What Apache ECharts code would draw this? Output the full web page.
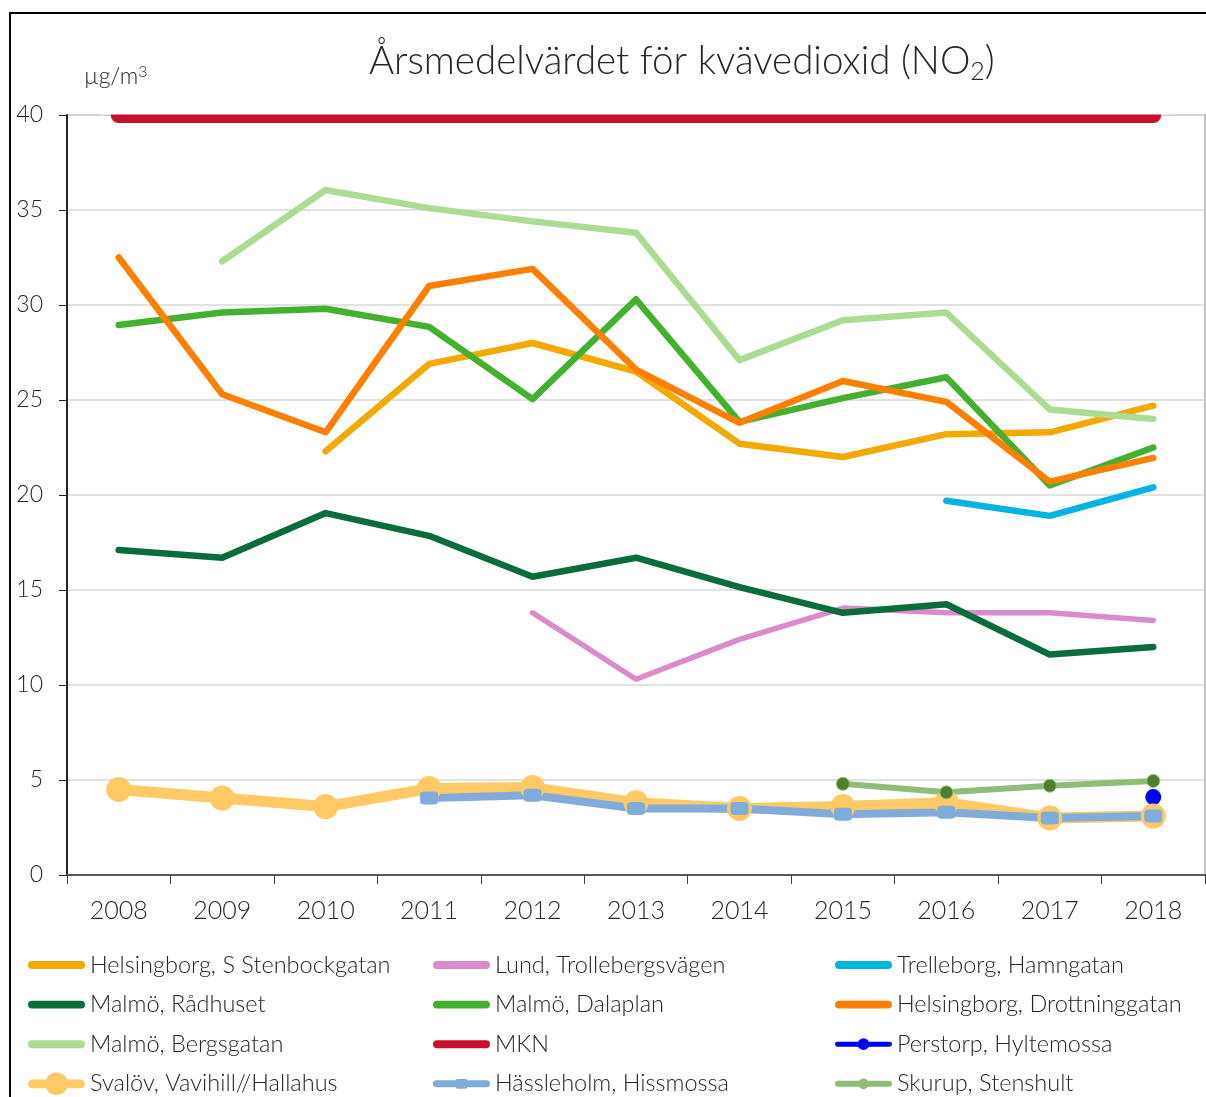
<!DOCTYPE html>
<html>
<head>
<meta charset="utf-8">
<script src="https://cdn.jsdelivr.net/npm/echarts@6/dist/echarts.min.js"></script>
<style>
  html, body { margin: 0; padding: 0; background: #fff; }
  #chart { width: 1206px; height: 1097px; }
</style>
</head>
<body>
<div id="chart"></div>
<script>
const years = ['2008', '2009', '2010', '2011', '2012', '2013', '2014', '2015', '2016', '2017', '2018']

const hbgStenbock = [null, null, 22.3, 26.9, 28.0, 26.5, 22.7, 22.0, 23.2, 23.3, 24.7]
const lundTroll = [null, null, null, null, 13.8, 10.3, 12.4, 14.05, 13.8, 13.8, 13.4]
const trelleborg = [null, null, null, null, null, null, null, null, 19.7, 18.9, 20.4]
const malmoRadhus = [17.1, 16.7, 19.05, 17.85, 15.7, 16.7, 15.15, 13.8, 14.25, 11.6, 12.0]
const malmoDala = [28.95, 29.6, 29.8, 28.85, 25.05, 30.3, 23.85, 25.1, 26.2, 20.5, 22.5]
const hbgDrott = [32.5, 25.3, 23.3, 31.0, 31.9, 26.6, 23.8, 26.0, 24.9, 20.7, 21.95]
const malmoBergs = [null, 32.3, 36.05, 35.1, 34.4, 33.8, 27.1, 29.2, 29.6, 24.5, 24.0]
const mkn = [40, 40, 40, 40, 40, 40, 40, 40, 40, 40, 40]
const perstorp = [null, null, null, null, null, null, null, null, null, null, 4.1]
const svalov = [4.5, 4.05, 3.6, 4.55, 4.6, 3.8, 3.5, 3.6, 3.8, 3.0, 3.1]
const hassleholm = [null, null, null, 4.05, 4.2, 3.5, 3.5, 3.2, 3.3, 3.0, 3.1]
const skurup = [null, null, null, null, null, null, null, 4.8, 4.35, 4.7, 4.95]

const yTicks = [0, 5, 10, 15, 20, 25, 30, 35, 40]

const font = 'Lato'
const txt = '#262626'

// legend icons, all drawn in a 58x24 box (corner anchors keep the box size)
const anchors = 'M0 0 L0.01 0 L0 0.01 Z M58 24 L57.99 24 L58 23.99 Z '
function band(h) {
  const r = h / 2, y0 = 12 - r, y1 = 12 + r
  return `M${r} ${y0} L${58 - r} ${y0} A${r} ${r} 0 0 1 ${58 - r} ${y1} L${r} ${y1} A${r} ${r} 0 0 1 ${r} ${y0} Z`
}
function bandWithDot(h, rad) {
  const r = h / 2, y0 = 12 - r, y1 = 12 + r
  const a = 29 - rad, b = 29 + rad
  return `M${r} ${y0} L${a + 1} ${y0} L${a + 1} ${y1} L${r} ${y1} A${r} ${r} 0 0 1 ${r} ${y0} Z ` +
    `M${b - 1} ${y0} L${58 - r} ${y0} A${r} ${r} 0 0 1 ${58 - r} ${y1} L${b - 1} ${y1} Z ` +
    `M${a} 12 A${rad} ${rad} 0 1 1 ${b} 12 A${rad} ${rad} 0 1 1 ${a} 12 Z`
}
function bandWithBox(h, w, bh) {
  const r = h / 2, y0 = 12 - r, y1 = 12 + r
  const a = 29 - w / 2, b = 29 + w / 2
  const t = 12 - bh / 2, u = 12 + bh / 2
  return `M${r} ${y0} L${a + 1} ${y0} L${a + 1} ${y1} L${r} ${y1} A${r} ${r} 0 0 1 ${r} ${y0} Z ` +
    `M${b - 1} ${y0} L${58 - r} ${y0} A${r} ${r} 0 0 1 ${58 - r} ${y1} L${b - 1} ${y1} Z ` +
    `M${a + 2} ${t} L${b - 2} ${t} Q${b} ${t} ${b} ${t + 2} L${b} ${u - 2} ` +
    `Q${b} ${u} ${b - 2} ${u} L${a + 2} ${u} Q${a} ${u} ${a} ${u - 2} L${a} ${t + 2} Q${a} ${t} ${a + 2} ${t} Z`
}
const iconLine = 'path://' + anchors + band(8)
const iconPerstorp = 'path://' + anchors + bandWithDot(5, 6)
const iconSvalov = 'path://' + anchors + bandWithDot(9, 11.5)
const iconHassle = 'path://' + anchors + bandWithBox(7, 12, 10)
const iconSkurup = 'path://' + anchors + bandWithDot(6, 5.5)

function plain(name, data, color, width) {
  return {
    name, type: 'line', data,
    symbol: 'none',
    lineStyle: { color, width, cap: 'round', join: 'round' },
    itemStyle: { color },
  }
}

const legendBase = {
  orient: 'vertical', top: 953, itemGap: 15.6, padding: 0,
  itemWidth: 57, itemHeight: 24,
  textStyle: { fontSize: 23.5, fontWeight: 300, color: txt, lineHeight: 24 },
}

const chart = echarts.init(document.getElementById('chart'))

chart.setOption({
  animation: false,
  textStyle: { fontFamily: font },
  title: [{
    text: 'Årsmedelvärdet för kvävedioxid (NO{sub|2})',
    left: 364, top: 34,
    textStyle: {
      fontFamily: font, fontSize: 38.5, fontWeight: 300, color: txt,
      rich: { sub: { fontFamily: font, fontSize: 25, fontWeight: 300, color: txt, verticalAlign: 'bottom', padding: [20, 0, 0, 0] } },
    },
  }, {
    text: 'µg/m{sup|3}',
    left: 79, top: 59,
    textStyle: {
      fontFamily: font, fontSize: 23, fontWeight: 300, color: txt,
      rich: { sup: { fontFamily: font, fontSize: 16, fontWeight: 300, color: txt, verticalAlign: 'top', padding: [0, 0, 10, 0] } },
    },
  }],
  graphic: [{
    type: 'rect',
    shape: { x: 10, y: 13, width: 1400, height: 1300 },
    style: { fill: 'none', stroke: '#000', lineWidth: 2 },
  }, {
    // the limit line is clipped at the top of the plot area
    type: 'rect', z: 100,
    shape: { x: 100, y: 96, width: 1075, height: 18.5 },
    style: { fill: '#fff' },
  }],
  grid: {
    left: 67, right: 1, top: 115, bottom: 222,
    show: true, borderColor: '#c0c0c0', borderWidth: 2,
  },
  xAxis: {
    type: 'category',
    data: years,
    boundaryGap: true,
    axisLine: { lineStyle: { color: '#595959', width: 2 } },
    axisTick: { show: true, interval: 0, length: 9, lineStyle: { color: '#404040' } },
    axisLabel: { color: txt, fontSize: 25, fontWeight: 300, margin: 23, interval: 0 },
  },
  yAxis: {
    type: 'value',
    min: yTicks[0], max: yTicks[yTicks.length - 1], interval: 5,
    axisLine: { show: true, lineStyle: { color: '#262626', width: 2 } },
    axisTick: { show: true, length: 8, lineStyle: { color: '#262626' } },
    axisLabel: { color: txt, fontSize: 23, fontWeight: 300, margin: 24 },
    splitLine: { lineStyle: { color: '#d9d9d9', width: 1.5 } },
  },
  legend: [
    Object.assign({}, legendBase, {
      left: 28,
      data: [
        { name: 'Helsingborg, S Stenbockgatan', icon: iconLine },
        { name: 'Malmö, Rådhuset', icon: iconLine },
        { name: 'Malmö, Bergsgatan', icon: iconLine },
        { name: 'Svalöv, Vavihill//Hallahus', icon: iconSvalov },
      ],
    }),
    Object.assign({}, legendBase, {
      left: 433,
      data: [
        { name: 'Lund, Trollebergsvägen', icon: iconLine },
        { name: 'Malmö, Dalaplan', icon: iconLine },
        { name: 'MKN', icon: iconLine },
        { name: 'Hässleholm, Hissmossa', icon: iconHassle },
      ],
    }),
    Object.assign({}, legendBase, {
      left: 835,
      data: [
        { name: 'Trelleborg, Hamngatan', icon: iconLine },
        { name: 'Helsingborg, Drottninggatan', icon: iconLine },
        { name: 'Perstorp, Hyltemossa', icon: iconPerstorp },
        { name: 'Skurup, Stenshult', icon: iconSkurup, itemStyle: { color: '#8fbc78', borderWidth: 0 } },
      ],
    }),
  ],
  series: [
    plain('Helsingborg, S Stenbockgatan', hbgStenbock, '#f2a900', 6.5),
    plain('Lund, Trollebergsvägen', lundTroll, '#d98cc9', 5.5),
    plain('Trelleborg, Hamngatan', trelleborg, '#00b4e2', 6.5),
    plain('Malmö, Rådhuset', malmoRadhus, '#0a6b3b', 6.5),
    plain('Malmö, Dalaplan', malmoDala, '#44b02f', 6.5),
    plain('Helsingborg, Drottninggatan', hbgDrott, '#ff8000', 6.5),
    plain('Malmö, Bergsgatan', malmoBergs, '#acdc94', 6.5),
    plain('MKN', mkn, '#c8102e', 16),
    {
      name: 'Perstorp, Hyltemossa', type: 'line', data: perstorp,
      symbol: 'circle', symbolSize: 16,
      lineStyle: { color: '#0000ff', width: 6 },
      itemStyle: { color: '#0000ff' },
    },
    {
      name: 'Svalöv, Vavihill//Hallahus', type: 'line', data: svalov,
      symbol: 'circle', symbolSize: 25,
      lineStyle: { color: '#ffc966', width: 11, cap: 'round', join: 'round' },
      itemStyle: { color: '#ffc966' },
    },
    {
      name: 'Hässleholm, Hissmossa', type: 'line', data: hassleholm,
      symbol: 'roundRect', symbolSize: [18, 13],
      lineStyle: { color: '#80acdc', width: 8, cap: 'round', join: 'round' },
      itemStyle: { color: '#80acdc' },
    },
    {
      name: 'Skurup, Stenshult', type: 'line', data: skurup,
      symbol: 'circle', symbolSize: 13,
      lineStyle: { color: '#8fbc78', width: 6, cap: 'round', join: 'round' },
      itemStyle: { color: '#4f7f2e', borderColor: '#8fbc78', borderWidth: 1 },
    },
  ],
})
</script>
</body>
</html>
